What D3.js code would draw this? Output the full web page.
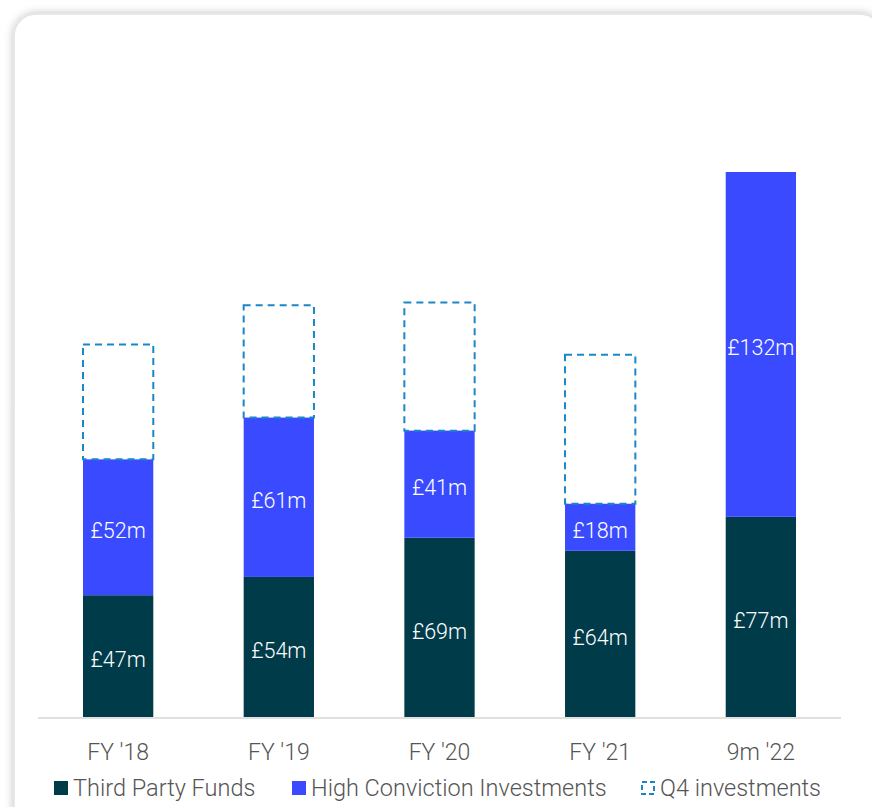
<!DOCTYPE html>
<html><head><meta charset="utf-8">
<script src="https://cdn.jsdelivr.net/npm/d3@7"></script>
<style>html,body{margin:0;padding:0;background:#fff;overflow:hidden;}svg{display:block;font-family:Roboto,"Noto Sans",sans-serif;font-weight:300;}</style>
</head><body>
<svg id="c" width="872" height="807"></svg>
<script>
const categories = ["FY '18", "FY '19", "FY '20", "FY '21", "9m '22"];
const thirdParty = [47, 54, 69, 64, 77];
const highConviction = [52, 61, 41, 18, 132];
const q4Investments = [44, 43, 49, 57, 0];
const legendLabels = ["Third Party Funds", "High Conviction Investments", "Q4 investments"];
const colors = {tp: "#003b4a", hc: "#3a4bff", q4: "#1a87c8", text: "#555555"};
const FS = 23, FS_BAR = 21.5, FS_LEG = 23.5;

const svg = d3.select("#c");
const defs = svg.append("defs");
const f = defs.append("filter").attr("id","sh").attr("x","-10%").attr("y","-10%").attr("width","120%").attr("height","120%");
f.append("feGaussianBlur").attr("in","SourceAlpha").attr("stdDeviation",5);
f.append("feOffset").attr("dx",0).attr("dy",0).attr("result","b");
f.append("feComponentTransfer").append("feFuncA").attr("type","linear").attr("slope",0.25);
const m = f.append("feMerge"); m.append("feMergeNode"); m.append("feMergeNode").attr("in","SourceGraphic");

svg.append("rect").attr("x",14).attr("y",14).attr("width",868).attr("height",830).attr("rx",22)
  .attr("fill","#fff").attr("stroke","#e2e2e2").attr("stroke-width",1.5).attr("filter","url(#sh)");

const x = d3.scaleBand().domain(categories).range([38, 841]).paddingInner(0.5625).paddingOuter(0.28);
const y = d3.scaleLinear().domain([0, 209]).range([718, 172]);

const g = svg.append("g");
categories.forEach((c, i) => {
  const x0 = x(c), w = x.bandwidth();
  const tp = thirdParty[i], hc = highConviction[i], q4 = q4Investments[i];
  g.append("rect").attr("x", x0).attr("y", y(tp)).attr("width", w).attr("height", y(0) - y(tp)).attr("fill", colors.tp);
  g.append("rect").attr("x", x0).attr("y", y(tp + hc)).attr("width", w).attr("height", y(tp) - y(tp + hc)).attr("fill", colors.hc);
  if (q4 > 0) {
    g.append("rect").attr("x", x0).attr("y", y(tp + hc + q4)).attr("width", w).attr("height", y(tp + hc) - y(tp + hc + q4))
      .attr("fill", "none").attr("stroke", colors.q4).attr("stroke-width", 2).attr("stroke-dasharray", "7,5");
  }
  g.append("text").attr("x", x0 + w / 2).attr("y", (y(0) + y(tp)) / 2).attr("dy", "0.5em").attr("text-anchor", "middle")
    .attr("fill", "#fff").attr("font-size", FS_BAR).text("£" + tp + "m");
  g.append("text").attr("x", x0 + w / 2).attr("y", (y(tp) + y(tp + hc)) / 2).attr("dy", "0.5em").attr("text-anchor", "middle")
    .attr("fill", "#fff").attr("font-size", FS_BAR).text("£" + hc + "m");
});

const ax = svg.append("g").attr("transform", "translate(0,718)").call(d3.axisBottom(x).tickSize(0));
ax.select(".domain").attr("stroke", "#e0e0e0").attr("stroke-width", 2).attr("d", "M38,0H841");
ax.selectAll("text").attr("y", 42).attr("dy", 0).attr("fill", colors.text).attr("font-size", FS)
  .attr("font-family", "Roboto,'Noto Sans',sans-serif").attr("font-weight", 300);

const lg = svg.append("g");
const lx = [54, 292, 641];
lg.append("rect").attr("x", lx[0]).attr("y", 781).attr("width", 14).attr("height", 14).attr("fill", colors.tp);
lg.append("rect").attr("x", lx[1]).attr("y", 781).attr("width", 14).attr("height", 14).attr("fill", colors.hc);
lg.append("rect").attr("x", lx[2] + 1).attr("y", 782).attr("width", 12).attr("height", 12).attr("fill", "none")
  .attr("stroke", colors.q4).attr("stroke-width", 2).attr("stroke-dasharray", "5,3");
legendLabels.forEach((t, i) => {
  lg.append("text").attr("x", lx[i] + 19).attr("y", 796).attr("fill", colors.text).attr("font-size", FS_LEG).text(t);
});
</script>
</body></html>
